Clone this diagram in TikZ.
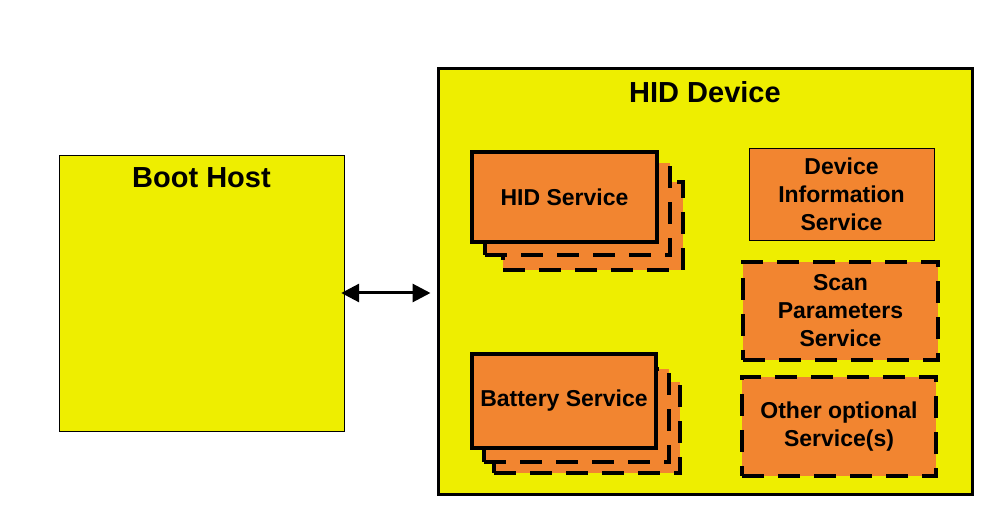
\documentclass[tikz,border=0pt]{standalone}
\usepackage{fontspec}
\setmainfont{Liberation Sans}
\usetikzlibrary{arrows.meta}
\definecolor{hidyellow}{RGB}{238,238,0}
\definecolor{hidorange}{RGB}{242,133,48}

\begin{document}
\begin{tikzpicture}[x=1pt, y=1pt,
    svc/.style={draw, fill=hidorange, align=center, inner sep=0pt,
      font=\bfseries\fontsize{23}{28}\selectfont},
    svcsolid/.style={svc, line width=4pt},
    svcdashed/.style={svc, line width=4pt, dash pattern=on 22pt off 14pt},
    title/.style={font=\bfseries\fontsize{29}{34}\selectfont}]
      \useasboundingbox (0,0) rectangle (1002,528);
      % Boot Host
      \node[draw, fill=hidyellow, minimum width=285, minimum height=276] (host) at (201.5,235) {};
      \node[title] (hosttitle) at (201.5,350) {Boot Host};
      % HID Device
      \node[draw, fill=hidyellow, line width=3pt, minimum width=534, minimum height=425] (dev) at (705,246.5) {};
      \node[title] (devtitle) at (705,436) {HID Device};

      % HID Service (pilha)
      \node[svcdashed, minimum width=180, minimum height=88] (hid3) at (593,302) {};
      \node[svcdashed, minimum width=185, minimum height=92] (hid2) at (577.5,319) {};
      \node[svcsolid, minimum width=185, minimum height=90] (hid1) at (564.5,331) {HID Service};
      % Battery Service (pilha)
      \node[svcdashed, minimum width=186, minimum height=91] (bat3) at (587,100.5) {};
      \node[svcdashed, minimum width=185, minimum height=93] (bat2) at (576.5,112.5) {};
      \node[svcsolid, minimum width=184, minimum height=94] (bat1) at (564,127) {Battery Service};

      % outros servicos
      \node[svc, minimum width=185, minimum height=92] (info) at (841.5,334) {Device\\Information\\Service};
      \node[svcdashed, minimum width=195, minimum height=98] (scan) at (840.5,217) {Scan\\Parameters\\Service};
      \node[svcdashed, minimum width=194, minimum height=99] (other) at (839,101.5) {Other optional\\Service(s)};

      % ligacao
      \draw[{Triangle[length=18pt,width=18pt]}-{Triangle[length=18pt,width=18pt]}, line width=3pt,
        shorten <=-3pt, shorten >=6pt] (host.east) -- (host.east -| dev.west);
    \end{tikzpicture}
\end{document}
